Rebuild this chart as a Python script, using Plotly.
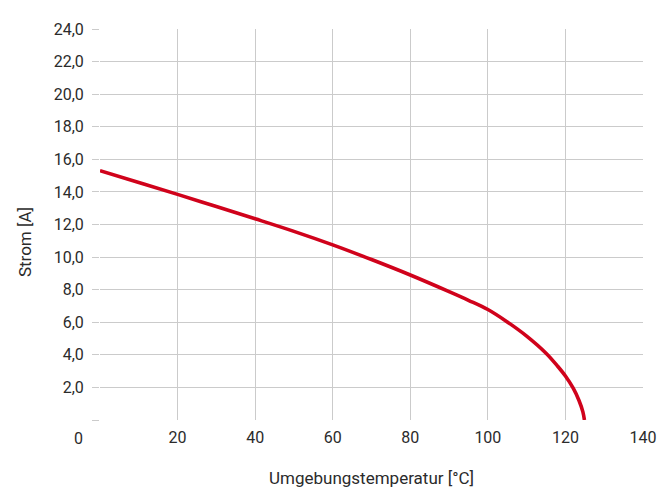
import plotly.graph_objects as go

# Data
temperature_c = [0, 10, 20, 30, 40, 50, 60, 70, 80, 90, 95, 100, 105, 110, 115, 118, 120, 122, 123.5, 124.5, 124.9]
current_a = [15.3, 14.58, 13.85, 13.1, 12.35, 11.58, 10.75, 9.85, 8.9, 7.88, 7.35, 6.78, 6.02, 5.15, 4.1, 3.3, 2.7, 1.95, 1.2, 0.5, 0.0]

x_tick_vals = [0, 20, 40, 60, 80, 100, 120, 140]
x_tick_text = ["", "20", "40", "60", "80", "100", "120", "140"]
y_tick_vals = [0, 2, 4, 6, 8, 10, 12, 14, 16, 18, 20, 22, 24]
y_tick_text = [""] + [f"{v},0" for v in y_tick_vals[1:]]

FONT = "Roboto, 'Liberation Sans', sans-serif"
TXT = "#2b2b2b"
GRID = "#cbcbcb"

fig = go.Figure()
fig.add_trace(go.Scatter(
    x=temperature_c, y=current_a, mode="lines",
    line=dict(color="#d0021b", width=3.6, shape="spline", smoothing=1.0),
    hoverinfo="skip", showlegend=False,
))

# The page body has an 8px margin, so the figure is 8px smaller and margins are shifted
fig.update_layout(
    width=660, height=482,
    margin=dict(l=92, r=21, t=13, b=70),
    paper_bgcolor="white", plot_bgcolor="white",
    font=dict(family=FONT, size=16, color=TXT),
    xaxis=dict(
        range=[0, 140], tickvals=x_tick_vals, ticktext=x_tick_text,
        showgrid=True, gridcolor=GRID, gridwidth=1, zeroline=False,
        showline=False, ticks="", ticklabelstandoff=6,
        tickfont=dict(family=FONT, size=16, color=TXT),
    ),
    yaxis=dict(
        range=[0, 24], tickvals=y_tick_vals, ticktext=y_tick_text,
        showgrid=True, gridcolor=GRID, gridwidth=1, zeroline=False,
        showline=False, ticks="outside", ticklen=7, tickcolor=GRID,
        ticklabelstandoff=5,
        tickfont=dict(family=FONT, size=16, color=TXT),
    ),
    annotations=[
        dict(text="0", xref="paper", yref="paper", x=0, y=0, xshift=-22, yshift=-18,
             showarrow=False, xanchor="center", yanchor="middle",
             font=dict(family=FONT, size=16, color=TXT)),
        dict(text="Umgebungstemperatur [°C]", xref="paper", yref="paper", x=0.5, y=0,
             yshift=-58, showarrow=False, xanchor="center", yanchor="middle",
             font=dict(family=FONT, size=17, color=TXT)),
        dict(text="Strom [A]", xref="paper", yref="paper", x=0, y=0.455,
             xshift=-75, showarrow=False, textangle=-90, xanchor="center", yanchor="middle",
             font=dict(family=FONT, size=17, color=TXT)),
    ],
)

fig.write_html("out.html")
